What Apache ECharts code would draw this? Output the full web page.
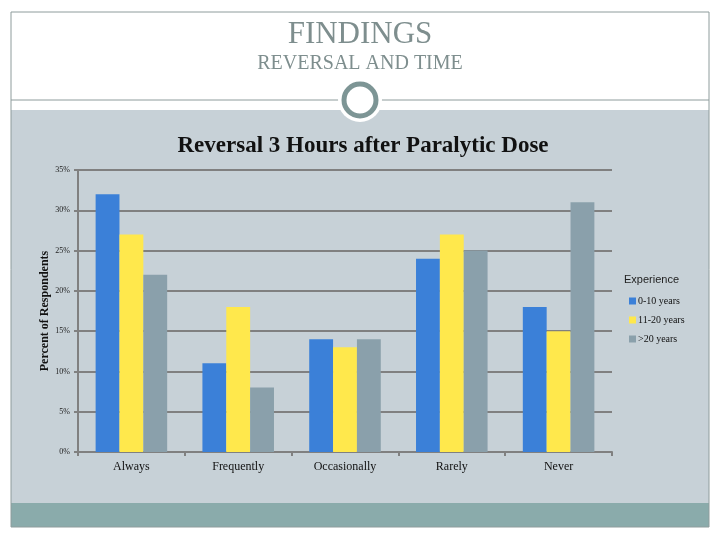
<!DOCTYPE html>
<html><head><meta charset="utf-8">
<script src="https://cdn.jsdelivr.net/npm/echarts@6/dist/echarts.min.js"></script>
<style>html,body{margin:0;padding:0;background:#fff}#c{width:720px;height:540px}</style>
</head><body><div id="c"></div>
<script>
var categories = ['Always', 'Frequently', 'Occasionally', 'Rarely', 'Never'];
var seriesNames = ['0-10 years', '11-20 years', '>20 years'];
var years0to10 = [32, 11, 14, 24, 18];
var years11to20 = [27, 18, 13, 27, 15];
var yearsOver20 = [22, 8, 14, 25, 31];
var yTicks = [0, 5, 10, 15, 20, 25, 30, 35];

var colors = ['#3B80D8', '#FFE84C', '#8AA0AB'];
var serif = 'Liberation Serif, DejaVu Serif, serif';
var chart = echarts.init(document.getElementById('c'));
var values = [years0to10, years11to20, yearsOver20];
chart.setOption({
  animation: false,
  backgroundColor: '#ffffff',
  graphic: [
    { type: 'rect', shape: { x: 11, y: 110, width: 698, height: 393 }, style: { fill: '#C7D1D7' }, z: -10 },
    { type: 'rect', shape: { x: 11, y: 503, width: 698, height: 24 }, style: { fill: '#8AABAB' }, z: -10 },
    { type: 'rect', shape: { x: 11, y: 12, width: 698, height: 515 }, style: { fill: 'none', stroke: '#8E9C9C', lineWidth: 1 }, z: -9 },
    { type: 'line', shape: { x1: 11, y1: 100, x2: 709, y2: 100 }, style: { stroke: '#8E9C9C', lineWidth: 1 }, z: -9 },
    { type: 'circle', shape: { cx: 360, cy: 100, r: 22 }, style: { fill: '#ffffff' }, z: -8 },
    { type: 'circle', shape: { cx: 360, cy: 100, r: 16 }, style: { fill: '#ffffff', stroke: '#7D9595', lineWidth: 5 }, z: -7 },
    { type: 'text', left: 'center', top: 19, style: { text: 'FINDINGS', fill: '#7E8E8E', font: '31px ' + serif }, z: 5 },
    { type: 'text', left: 'center', top: 54, style: { text: 'REVERSAL AND TIME', fill: '#7E8E8E', font: '20px ' + serif }, z: 5 },
    { type: 'text', left: 624, top: 274, style: { text: 'Experience', fill: '#222', font: '11px Liberation Sans, Arial, sans-serif' }, z: 5 }
  ],
  title: {
    text: 'Reversal 3 Hours after Paralytic Dose',
    left: 358, textAlign: 'center', top: 130,
    textStyle: { fontFamily: serif, fontSize: 23, fontWeight: 'bold', color: '#111' }
  },
  legend: {
    orient: 'vertical', left: 624, top: 291,
    itemWidth: 7, itemHeight: 7, itemGap: 9, icon: 'rect',
    data: seriesNames,
    textStyle: { fontFamily: serif, fontSize: 10, color: '#111', padding: [0, 0, 0, -3] }
  },
  grid: { left: 78, right: 108, top: 170, bottom: 88 },
  xAxis: {
    type: 'category', data: categories,
    axisLine: { lineStyle: { color: '#808080', width: 2 } },
    axisTick: { show: true, length: 4, lineStyle: { color: '#808080', width: 2 } },
    axisLabel: { fontFamily: serif, fontSize: 12, color: '#111', margin: 9 }
  },
  yAxis: {
    type: 'value', min: yTicks[0], max: yTicks[yTicks.length - 1], interval: 5,
    name: 'Percent of Respondents', nameLocation: 'middle', nameGap: 27, nameRotate: 90,
    nameMoveOverlap: false,
    nameTextStyle: { fontFamily: serif, fontSize: 12, fontWeight: 'bold', color: '#111' },
    axisLine: { show: true, lineStyle: { color: '#808080', width: 2 } },
    axisTick: { show: true, length: 4, lineStyle: { color: '#808080', width: 2 } },
    splitLine: { lineStyle: { color: '#808080', width: 2 } },
    axisLabel: { formatter: '{value}%', fontFamily: serif, fontSize: 8, color: '#222', margin: 8 }
  },
  series: seriesNames.map(function (n, i) {
    return {
      name: n, type: 'bar', data: values[i], barGap: '0%', barCategoryGap: '33%',
      itemStyle: { color: colors[i] }
    };
  })
});
</script></body></html>
